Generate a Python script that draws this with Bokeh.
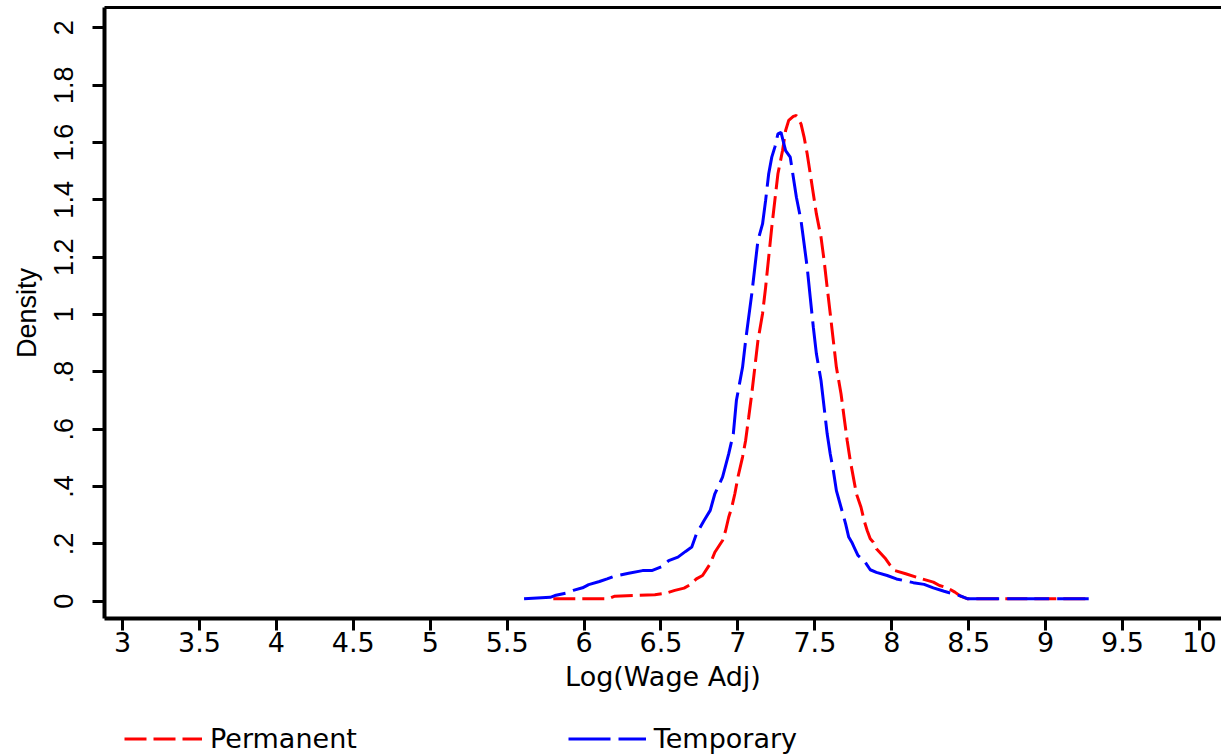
from bokeh.plotting import figure
from bokeh.layouts import column
from bokeh.models import FixedTicker, LinearAxis, Legend, LegendItem, Range1d
from bokeh.embed import file_html
from bokeh.resources import INLINE

# ---- data ----
perm_x = [5.80, 6.16, 6.20, 6.46, 6.53, 6.59, 6.65, 6.69, 6.73, 6.77, 6.82, 6.85, 6.90, 6.92,
          6.94, 6.96, 6.98, 7.00, 7.03, 7.05, 7.07, 7.09, 7.11, 7.13, 7.16, 7.18, 7.20, 7.22,
          7.24, 7.26, 7.29, 7.31, 7.33, 7.36, 7.38, 7.41, 7.43, 7.45, 7.47, 7.49, 7.51, 7.54,
          7.56, 7.58, 7.60, 7.62, 7.64, 7.67, 7.69, 7.71, 7.73, 7.75, 7.77, 7.80, 7.82, 7.84,
          7.86, 7.88, 7.90, 7.96, 7.99, 8.02, 8.09, 8.16, 8.27, 8.31, 8.36, 8.41, 8.45, 8.49, 9.28]
perm_y = [0.009, 0.009, 0.018, 0.023, 0.028, 0.038, 0.046, 0.058, 0.078, 0.090, 0.131, 0.171,
          0.212, 0.247, 0.293, 0.328, 0.375, 0.433, 0.503, 0.561, 0.642, 0.724, 0.816, 0.909,
          1.003, 1.095, 1.200, 1.305, 1.398, 1.491, 1.572, 1.642, 1.677, 1.691, 1.694, 1.665,
          1.619, 1.561, 1.491, 1.421, 1.351, 1.270, 1.189, 1.095, 1.003, 0.909, 0.816, 0.724,
          0.642, 0.561, 0.491, 0.433, 0.375, 0.328, 0.282, 0.247, 0.218, 0.206, 0.183, 0.148,
          0.125, 0.107, 0.096, 0.084, 0.067, 0.055, 0.047, 0.032, 0.017, 0.009, 0.009]

temp_x = [5.61, 5.78, 5.81, 5.88, 5.93, 5.99, 6.03, 6.10, 6.15, 6.20, 6.29, 6.38, 6.44, 6.51,
          6.55, 6.61, 6.66, 6.70, 6.73, 6.78, 6.82, 6.85, 6.90, 6.94, 6.97, 6.99, 7.03, 7.05,
          7.07, 7.09, 7.11, 7.13, 7.16, 7.18, 7.20, 7.22, 7.24, 7.26, 7.28, 7.31, 7.34, 7.36,
          7.38, 7.41, 7.43, 7.45, 7.47, 7.49, 7.51, 7.54, 7.56, 7.58, 7.60, 7.62, 7.64, 7.67,
          7.70, 7.72, 7.74, 7.76, 7.78, 7.82, 7.86, 7.90, 7.97, 8.03, 8.14, 8.21, 8.27, 8.34,
          8.40, 8.45, 8.49, 9.28]
temp_y = [0.009, 0.014, 0.020, 0.028, 0.038, 0.047, 0.058, 0.069, 0.078, 0.088, 0.098, 0.107,
          0.107, 0.122, 0.142, 0.154, 0.174, 0.189, 0.235, 0.282, 0.317, 0.375, 0.433, 0.514,
          0.584, 0.700, 0.816, 0.909, 0.991, 1.072, 1.165, 1.258, 1.316, 1.398, 1.491, 1.549,
          1.584, 1.630, 1.635, 1.572, 1.549, 1.479, 1.409, 1.328, 1.247, 1.165, 1.060, 0.956,
          0.863, 0.770, 0.677, 0.584, 0.514, 0.456, 0.386, 0.328, 0.270, 0.224, 0.206, 0.183,
          0.160, 0.142, 0.110, 0.101, 0.090, 0.078, 0.065, 0.059, 0.047, 0.035, 0.026, 0.018,
          0.009, 0.009]

x_ticks = [3, 3.5, 4, 4.5, 5, 5.5, 6, 6.5, 7, 7.5, 8, 8.5, 9, 9.5, 10]
x_tick_labels = ["3", "3.5", "4", "4.5", "5", "5.5", "6", "6.5", "7", "7.5", "8", "8.5", "9", "9.5", "10"]
y_ticks = [0, 0.2, 0.4, 0.6, 0.8, 1.0, 1.2, 1.4, 1.6, 1.8, 2.0]
y_tick_labels = ["0", ".2", ".4", ".6", ".8", "1", "1.2", "1.4", "1.6", "1.8", "2"]
series_names = ["Permanent", "Temporary"]
series_colors = ["#ff0000", "#0000ff"]
series_dashes = ["22 7", "42 8"]

FONT_H = "DejaVu Sans"       # horizontal texts (reference is horizontally stretched)
FONT_V = "Liberation Sans"   # rotated texts
FS = "27px"
W = 1221

p = figure(width=W, height=700, output_backend="svg", toolbar_location=None,
           x_range=Range1d(2.883, 10.143), y_range=Range1d(-0.060, 2.0708),
           min_border_left=104, min_border_right=0, min_border_top=7, min_border_bottom=82)
p.grid.visible = False
p.outline_line_color = None
p.background_fill_color = "white"

p.line(perm_x, perm_y, line_color=series_colors[0], line_width=3, line_dash=series_dashes[0])
p.line(temp_x, temp_y, line_color=series_colors[1], line_width=3, line_dash=series_dashes[1])

for ax, fnt in ((p.xaxis[0], FONT_H), (p.yaxis[0], FONT_V)):
    ax.axis_line_width = 4
    ax.axis_line_color = "black"
    ax.major_tick_line_width = 3
    ax.major_tick_line_color = "black"
    ax.major_tick_out = 12
    ax.major_tick_in = 0
    ax.minor_tick_line_color = None
    ax.major_label_text_font = fnt
    ax.major_label_text_font_size = FS
    ax.major_label_text_color = "black"
    ax.axis_label_text_font = fnt
    ax.axis_label_text_font_size = FS
    ax.axis_label_text_font_style = "normal"
    ax.axis_label_text_color = "black"

p.xaxis[0].ticker = FixedTicker(ticks=x_ticks)
p.xaxis[0].major_label_overrides = dict(zip(x_ticks, x_tick_labels))
p.xaxis[0].axis_label = "Log(Wage Adj)"
p.xaxis[0].major_label_standoff = 1
p.xaxis[0].axis_label_standoff = 6

p.yaxis[0].ticker = FixedTicker(ticks=y_ticks)
p.yaxis[0].major_label_overrides = dict(zip(y_ticks, y_tick_labels))
p.yaxis[0].major_label_orientation = "vertical"
p.yaxis[0].axis_label = "Density"
p.yaxis[0].major_label_standoff = 19
p.yaxis[0].axis_label_standoff = 10

top = LinearAxis(ticker=FixedTicker(ticks=[]), axis_line_width=3, axis_line_color="black",
                 major_tick_line_color=None, minor_tick_line_color=None)
p.add_layout(top, "above")

# ---- legend strip below the plot ----
lg = figure(width=W, height=56, output_backend="svg", toolbar_location=None,
            x_range=Range1d(0, 1), y_range=Range1d(0, 1), x_axis_type=None, y_axis_type=None,
            min_border_left=0, min_border_right=0, min_border_top=0, min_border_bottom=0)
lg.grid.visible = False
lg.outline_line_color = None
items = []
for name, col, dash, xs, ys in zip(series_names, series_colors, series_dashes,
                                   [perm_x, temp_x], [perm_y, temp_y]):
    r = lg.line(xs, ys, line_color=col, line_width=3, line_dash=dash, visible=False)
    items.append(LegendItem(label=name, renderers=[r]))
legend = Legend(items=items, orientation="horizontal", location=(20, 2),
                glyph_width=78, glyph_height=27, label_standoff=8, spacing=211,
                padding=0, margin=0, border_line_color=None, background_fill_alpha=0,
                inactive_fill_alpha=0,
                label_text_font=FONT_H, label_text_font_size=FS, label_text_color="black")
lg.add_layout(legend)

layout = column(p, lg, spacing=0)
open("out.html", "w").write(file_html(layout, INLINE))
